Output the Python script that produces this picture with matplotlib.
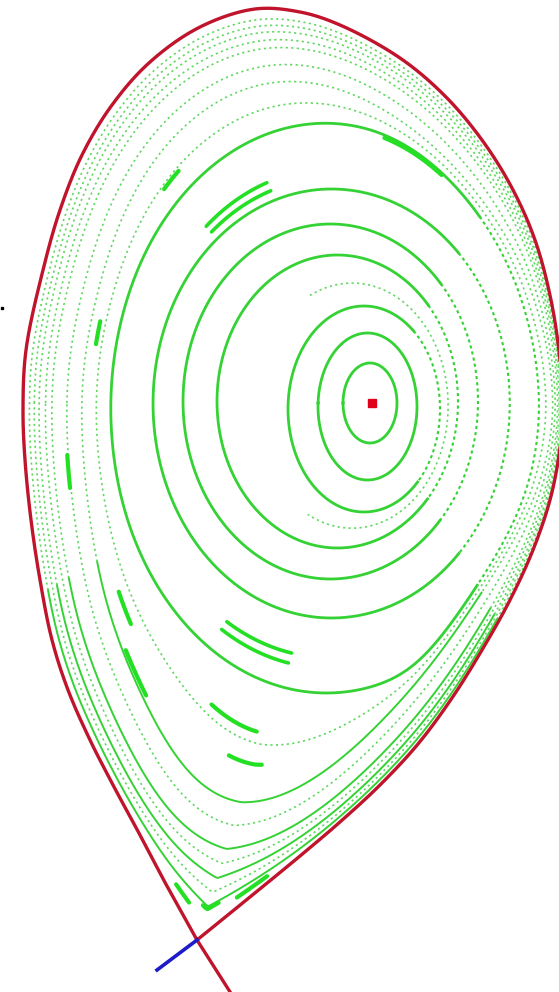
import numpy as np
import matplotlib
matplotlib.use("Agg")
import matplotlib.pyplot as plt

# Last closed flux surface, traced from the X-point up the inboard side,
# over the top and back down the outboard side to the X-point.
sep_r = [197, 168, 140, 113, 90, 68, 52, 40, 31, 25, 23, 26, 43, 60, 82, 112,
         150, 200, 255, 300, 340, 400, 445, 482, 512, 535, 551, 560, 563, 559,
         550, 533, 510, 482, 452, 418, 380, 340, 300, 250, 197]
sep_z = [940, 888, 835, 785, 740, 690, 640, 580, 520, 460, 410, 350, 270, 210,
         155, 105, 62, 27, 9, 12, 25, 58, 96, 140, 188, 240, 300, 360, 410, 455,
         500, 550, 600, 650, 698, 744, 785, 822, 856, 897, 940]

# Divertor legs beyond the X-point
leg_out_r, leg_out_z = [197, 232], [940, 995]
leg_in_r, leg_in_z = [197, 157], [940, 970]

# Magnetic axis
axis_r, axis_z = 372, 403

# Core surfaces: inboard / outboard midplane crossings, top and bottom
core_left = [343, 318, 288, 217, 183, 153, 110]
core_right = [397, 417, 440, 458, 478, 510, 543]
core_top = [363, 333, 306, 255, 224, 189, 123]
core_bottom = [443, 480, 512, 548, 579, 618, 693]
# how close each core surface may come to the first edge surface
core_cap = [1.5, 1.5, 1.5, 0.80, 0.86, 0.92, 0.965]

# Edge layer surfaces: midplane crossings and how sharply they feel the X-point
edge_left = [83, 53, 40, 30]
edge_right = [552, 557, 560, 562]
edge_sharp = [0.05, 0.15, 0.35, 0.6]

# Thin chains of points between the surfaces (fractional surface index)
chain_u = [2.45, 6.5, 7.5, 8.5, 9.5]

# Island chains, by end points of each visible segment
isl_r0 = [205, 220, 207, 227, 117, 123, 175, 202, 237, 160, 96, 67, 385]
isl_z0 = [225, 632, 713, 760, 593, 653, 887, 908, 897, 185, 320, 455, 125]
isl_r1 = [268, 290, 258, 262, 132, 148, 190, 217, 267, 182, 100, 70, 440]
isl_z1 = [185, 658, 728, 764, 623, 693, 900, 908, 877, 175, 345, 488, 180]
isl_double = [1, 1, 0, 0, 0, 0, 0, 0, 0, 0, 0, 0, 0]


def catmull_rom(px, py, n=24):
    p = np.column_stack([px, py]).astype(float)
    p = np.vstack([2 * p[0] - p[1], p, 2 * p[-1] - p[-2]])
    out = []
    for i in range(1, len(p) - 2):
        p0, p1, p2, p3 = p[i - 1], p[i], p[i + 1], p[i + 2]
        t0 = 0.0
        t1 = t0 + np.linalg.norm(p1 - p0) ** 0.5
        t2 = t1 + np.linalg.norm(p2 - p1) ** 0.5
        t3 = t2 + np.linalg.norm(p3 - p2) ** 0.5
        t = np.linspace(t1, t2, n, endpoint=False)[:, None]
        a1 = (t1 - t) / (t1 - t0) * p0 + (t - t0) / (t1 - t0) * p1
        a2 = (t2 - t) / (t2 - t1) * p1 + (t - t1) / (t2 - t1) * p2
        a3 = (t3 - t) / (t3 - t2) * p2 + (t - t2) / (t3 - t2) * p3
        b1 = (t2 - t) / (t2 - t0) * a1 + (t - t0) / (t2 - t0) * a2
        b2 = (t3 - t) / (t3 - t1) * a2 + (t - t1) / (t3 - t1) * a3
        out.append((t2 - t) / (t2 - t1) * b1 + (t - t1) / (t2 - t1) * b2)
    out.append(p[-2][None])
    return np.vstack(out)


lcfs = catmull_rom(sep_r, sep_z)

# separatrix radius seen from the magnetic axis, sharp and with the X-point rounded
b_ang = np.arctan2(lcfs[:, 1] - axis_z, lcfs[:, 0] - axis_r)
b_rad = np.hypot(lcfs[:, 1] - axis_z, lcfs[:, 0] - axis_r)
o = np.argsort(b_ang)
grid = np.linspace(-np.pi, np.pi, 1440, endpoint=False)
r_sharp = np.interp(grid, b_ang[o], b_rad[o], period=2 * np.pi)
kern = np.exp(-0.5 * (np.arange(-128, 129) / 32.0) ** 2)
kern /= kern.sum()
r_round = np.convolve(np.r_[r_sharp[-128:], r_sharp, r_sharp[:128]], kern, "valid")
r_in = axis_r - min(sep_r)
r_out = max(sep_r) - axis_r

n_core, n_edge = len(core_left), len(edge_left)
core_idx = np.arange(n_core, dtype=float)
edge_idx = np.arange(n_edge + 1, dtype=float)
edge_f = [(axis_r - v) / r_in for v in edge_left] + [1.0]
edge_fr = [(v - axis_r) / r_out for v in edge_right] + [1.0]
edge_m = list(edge_sharp) + [1.0]


def edge_radius(u, th):
    f = np.interp(u, edge_idx, edge_f)
    fr = np.interp(u, edge_idx, edge_fr)
    m = np.interp(u, edge_idx, edge_m)
    rs = np.interp(th, grid, r_sharp, period=2 * np.pi)
    rr = np.interp(th, grid, r_round, period=2 * np.pi)
    scale = f + (fr - f) * np.clip(np.cos(th), 0, None) ** 2
    return scale * (rr + m * (rs - rr))


def core_radius(u, th):
    L = np.interp(u, core_idx, core_left)
    R = np.interp(u, core_idx, core_right)
    T = np.interp(u, core_idx, core_top)
    B = np.interp(u, core_idx, core_bottom)
    cap = np.interp(u, core_idx, core_cap)
    a, b = 0.5 * (R - L), 0.5 * (B - T)
    dx, dz = axis_r - 0.5 * (L + R), axis_z - 0.5 * (T + B)
    c, s = np.cos(th), np.sin(th)
    qa = c ** 2 / a ** 2 + s ** 2 / b ** 2
    qb = 2 * (dx * c / a ** 2 + dz * s / b ** 2)
    qc = dx ** 2 / a ** 2 + dz ** 2 / b ** 2 - 1
    r_ell = (-qb + np.sqrt(qb ** 2 - 4 * qa * qc)) / (2 * qa)
    r_cap = cap * edge_radius(0, th)
    k = 8.0
    lo = np.minimum(r_ell, r_cap)
    return lo - k * np.log(np.exp((lo - r_ell) / k) + np.exp((lo - r_cap) / k))


def radius(u, th):
    if u <= n_core - 1:
        return core_radius(u, th)
    if u < n_core:
        w = u - (n_core - 1)
        w = w * w * (3 - 2 * w)
        return (1 - w) * core_radius(n_core - 1, th) + w * edge_radius(0, th)
    return edge_radius(u - n_core, th)


def surface(u, t0=-np.pi, t1=np.pi, n=1800):
    th = np.linspace(t0, t1, n)
    rr = radius(u, th)
    return axis_r + rr * np.cos(th), axis_z + rr * np.sin(th)


u_grid = np.linspace(0, n_core + n_edge, 1101)


def locate(r, z):
    th = np.arctan2(z - axis_z, r - axis_r)
    dist = np.hypot(z - axis_z, r - axis_r)
    prof = np.array([radius(u, th) for u in u_grid])
    return th, float(np.interp(dist, prof, u_grid))


fig = plt.figure(figsize=(5.59, 9.92), dpi=100)
ax = fig.add_axes([0, 0, 1, 1])
ax.set_xlim(0, 559)
ax.set_ylim(992, 0)
ax.axis("off")

green = "#34d234"
light = "#62d862"
bright = "#24e024"
dots = (0, (1.3, 2.0))
rad = np.radians

for u in chain_u:
    if u < 3:
        r, z = surface(u, rad(-120), rad(120))
    else:
        r, z = surface(u)
    ax.plot(r, z, color=light, lw=1.2, ls=dots)

for k in range(n_core):
    if k < 2:
        r, z = surface(k)
        ax.plot(r, z, color=green, lw=2.0)
        continue
    r, z = surface(k, rad(60), rad(300))
    ax.plot(r, z, color=green, lw=2.0)
    r, z = surface(k, rad(-60), rad(60))
    ax.plot(r, z, color=green, lw=1.5, ls=(0, (1.5, 1.5)))

for k in range(n_core, n_core + n_edge):
    r, z = surface(k, rad(60), rad(150))
    ax.plot(r, z, color=green, lw=1.4)
    r, z = surface(k, rad(150), rad(420))
    ax.plot(r, z, color=light, lw=1.2, ls=dots)

for r0, z0, r1, z1, dbl in zip(isl_r0, isl_z0, isl_r1, isl_z1, isl_double):
    a0, _ = locate(r0, z0)
    a1, _ = locate(r1, z1)
    if a1 - a0 > np.pi:
        a1 -= 2 * np.pi
    elif a0 - a1 > np.pi:
        a1 += 2 * np.pi
    _, um = locate(0.5 * (r0 + r1), 0.5 * (z0 + z1))
    offs = [-0.07, 0.07] if dbl else [0.0]
    for dd in offs:
        r, z = surface(um + dd, a0, a1, 80)
        ax.plot(r, z, color=bright, lw=2.6 if dbl else 3.0,
                solid_capstyle="round")

ax.plot(lcfs[:, 0], lcfs[:, 1], color="#c0142c", lw=2.4)
ax.plot(leg_out_r, leg_out_z, color="#c0142c", lw=2.4)
ax.plot(leg_in_r, leg_in_z, color="#1c1cc8", lw=2.6)
ax.plot(axis_r, axis_z, "s", color="#e0001c", ms=6)
ax.plot([2], [308], "s", color="k", ms=2)

fig.savefig("out.png", dpi=100)
